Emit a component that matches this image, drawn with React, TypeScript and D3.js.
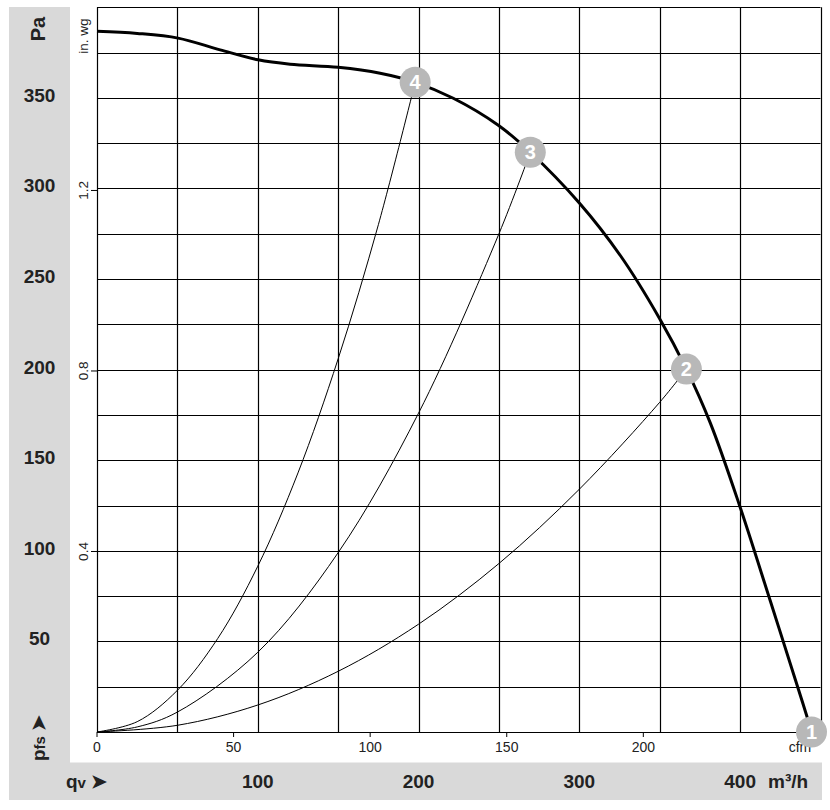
import React from "react";
import * as d3 from "d3";

// Main fan curve: [airflow m³/h, static pressure Pa]
const fanCurve: [number, number][] = [
  [0, 386.8], [25, 385.6], [50.4, 383], [76.6, 376.5], [100.2, 371], [120.1, 368.6],
  [150, 366.9], [176.1, 363.6], [197.9, 358.6], [221.6, 349.8], [249.6, 334.9],
  [269.5, 320], [300, 292], [325.5, 263], [349.8, 228.4], [366.6, 200.3],
  [381.5, 170.5], [399.6, 125.2], [418.9, 72], [436.3, 23.5], [444.4, 0.5],
];

// System (load) lines to operating points 4, 3, 2
const load4: [number, number][] = [[0, 0], [25, 5.7], [50, 23], [75, 51.5], [100, 91.5], [125, 143], [150, 206], [175, 280], [197.9, 358.6]];
const load3: [number, number][] = [[0, 0], [25, 2.8], [50, 11], [100, 44], [150, 99], [200, 176], [250, 275], [269.5, 320]];
const load2: [number, number][] = [[0, 0], [50, 3.7], [100, 14.9], [150, 33.5], [200, 59.5], [250, 93], [300, 134], [350, 182], [366.6, 200.3]];

// Operating points
const opLabels = ["1", "2", "3", "4"];
const opPoints: [number, number][] = [[444.4, 0], [366.6, 200.3], [269.5, 320], [197.9, 358.6]];

// Axis ticks
const paTicks = [50, 100, 150, 200, 250, 300, 350];
const inwgTicks = [0.4, 0.8, 1.2];
const cfmTicks = [0, 50, 100, 150, 200];
const m3hLabels = [100, 200, 300, 400];

const PA_PER_INWG = 249.089;
const M3H_PER_CFM = 1.69901;

export default function App() {
  const x = d3.scaleLinear().domain([0, 450]).range([97, 820.5]);
  const y = d3.scaleLinear().domain([0, 400]).range([732, 7.3]);
  const smooth = d3
    .line<[number, number]>()
    .x((d) => x(d[0]))
    .y((d) => y(d[1]))
    .curve(d3.curveCatmullRom.alpha(0.5));
  const vGrid = d3.range(0, 451, 50);
  const hGrid = d3.range(0, 401, 25);
  const font = "'Liberation Sans', Arial, sans-serif";
  const grey = "#d9d9d9";

  return (
    <svg width={830} height={810} style={{ position: "absolute", left: 0, top: 0, background: "#fff" }} fontFamily={font}>
      {/* grey frame */}
      <rect x={9} y={7} width={61} height={793} fill={grey} />
      <rect x={9} y={762.5} width={813} height={37.5} fill={grey} />

      {/* grid */}
      {vGrid.map((v) => (
        <line key={"v" + v} x1={Math.round(x(v)) + 0.5} x2={Math.round(x(v)) + 0.5} y1={y(400)} y2={y(0)} stroke="#000" strokeWidth={1.2} />
      ))}
      {hGrid.map((v) => (
        <line key={"h" + v} x1={x(0)} x2={x(450)} y1={Math.round(y(v)) + 0.5} y2={Math.round(y(v)) + 0.5} stroke="#000" strokeWidth={1.2} />
      ))}

      {/* in. wg ticks */}
      {inwgTicks.map((t) => {
        const yy = y(t * PA_PER_INWG);
        return (
          <g key={"iw" + t}>
            <line x1={91} x2={97} y1={yy} y2={yy} stroke="#000" strokeWidth={1} />
            <text transform={`translate(88,${yy}) rotate(-90)`} textAnchor="middle" fontSize={13.5} fill="#222">
              {t}
            </text>
          </g>
        );
      })}
      <text transform="translate(88,36) rotate(-90)" textAnchor="middle" fontSize={13.5} fill="#222">
        in. wg
      </text>

      {/* cfm ticks */}
      {cfmTicks.map((t) => {
        const xx = x(t * M3H_PER_CFM);
        return (
          <g key={"cfm" + t}>
            <line x1={xx} x2={xx} y1={732} y2={737} stroke="#000" strokeWidth={1} />
            <text x={xx} y={752} textAnchor="middle" fontSize={14} fill="#222">
              {t}
            </text>
          </g>
        );
      })}
      <text x={800} y={752} textAnchor="middle" fontSize={14} fill="#222">
        cfm
      </text>

      {/* Pa labels */}
      {paTicks.map((t) => (
        <text key={"pa" + t} x={39.5} y={y(t) + 4} textAnchor="middle" fontSize={19} fontWeight="bold" fill="#222">
          {t}
        </text>
      ))}
      <text transform="translate(45,29) rotate(-90)" textAnchor="middle" fontSize={20} fontWeight="bold" fill="#222">
        Pa
      </text>
      <text transform="translate(45,738) rotate(-90)" textAnchor="middle" fontSize={19} fontWeight="bold" fill="#222">
        p<tspan fontSize={15}>fs</tspan> ➤
      </text>

      {/* m³/h labels */}
      {m3hLabels.map((t) => (
        <text key={"m" + t} x={x(t)} y={788} textAnchor="middle" fontSize={19} fontWeight="bold" fill="#222">
          {t}
        </text>
      ))}
      <text x={768} y={788} fontSize={19} fontWeight="bold" fill="#222">
        m³/h
      </text>
      <text x={66} y={788} fontSize={19} fontWeight="bold" fill="#222">
        q<tspan fontSize={15}>v</tspan> ➤
      </text>

      {/* load lines */}
      {[load2, load3, load4].map((d, i) => (
        <path key={"l" + i} d={smooth(d) ?? ""} fill="none" stroke="#000" strokeWidth={1} />
      ))}

      {/* fan curve */}
      <path d={smooth(fanCurve) ?? ""} fill="none" stroke="#000" strokeWidth={3} strokeLinejoin="round" />

      {/* operating points */}
      {opPoints.map((p, i) => (
        <g key={"op" + i}>
          <circle cx={x(p[0])} cy={y(p[1])} r={15.5} fill="#b8b8b8" />
          <text x={x(p[0])} y={y(p[1]) + 7} textAnchor="middle" fontSize={20} fontWeight="bold" fill="#fff">
            {opLabels[i]}
          </text>
        </g>
      ))}
    </svg>
  );
}
